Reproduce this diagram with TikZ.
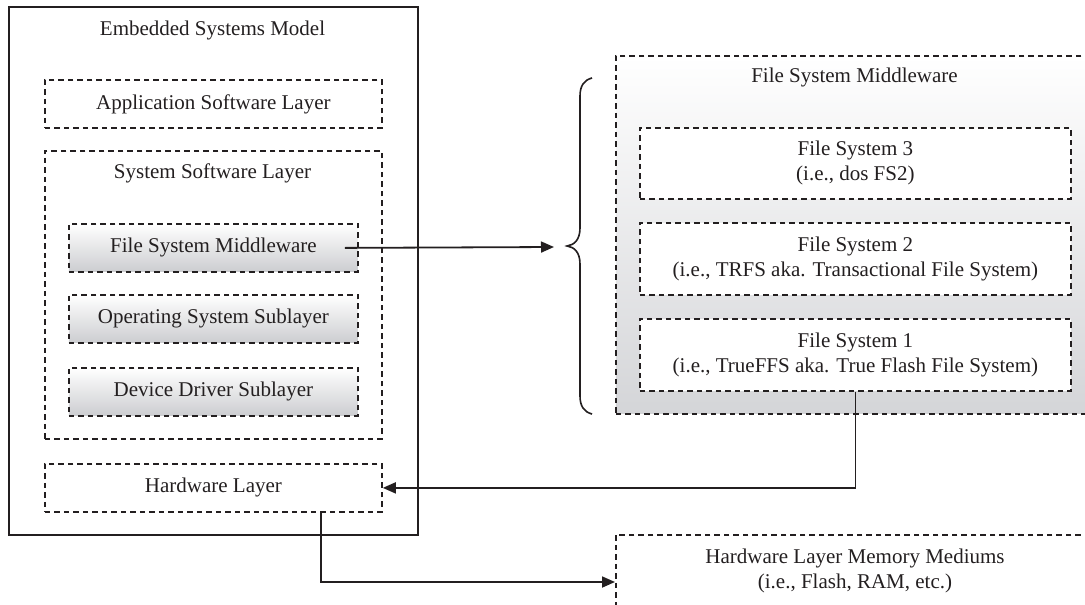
\documentclass[tikz,border=0pt]{standalone}
\usepackage{fontspec}
\setmainfont{Liberation Serif}
\usetikzlibrary{arrows.meta}
\definecolor{ink}{RGB}{35,31,32}
\definecolor{shadelow}{RGB}{204,205,208}
\definecolor{panellow}{RGB}{212,213,216}
\tikzset{
  txt/.style={font=\fontsize{21}{25}\selectfont, text=ink, align=center, inner sep=0pt},
  solidbox/.style={draw=ink, line width=2pt, rectangle, inner sep=0pt, anchor=north west},
  dbox/.style={draw=ink, dash pattern=on 5.5pt off 4pt, line width=1.8pt, rectangle,
    inner sep=0pt, anchor=north west, txt},
  shadebox/.style={dbox, top color=white, bottom color=shadelow},
  panelbox/.style={dbox, top color=white, bottom color=panellow},
  whitebox/.style={dbox, fill=white},
  conn/.style={draw=ink, line width=1.8pt, -{Triangle[length=13pt,width=11pt]}},
}
\begin{document}
\begin{tikzpicture}[x=1pt,y=-1pt]
\useasboundingbox (0,0) rectangle (1085,605);
\clip (0,0) rectangle (1085,605);

% embedded systems model, left column
\node[solidbox, minimum width=409pt, minimum height=528pt] (esm) at (8,6) {};
\node[txt] (esmlabel) at (212.5,30) {Embedded Systems Model};
\node[dbox, minimum width=337pt, minimum height=48pt] (app) at (44,79) {Application Software Layer};
\node[dbox, minimum width=337pt, minimum height=288pt] (sys) at (44,150) {};
\node[txt] (syslabel) at (212.5,173) {System Software Layer};
\node[shadebox, minimum width=289pt, minimum height=48pt] (fsm) at (68,223) {File System Middleware};
\node[shadebox, minimum width=289pt, minimum height=48pt] (os) at (68,294) {Operating System Sublayer};
\node[shadebox, minimum width=289pt, minimum height=48pt] (dd) at (68,367) {Device Driver Sublayer};
\node[dbox, minimum width=337pt, minimum height=48pt] (hw) at (44,463) {Hardware Layer};

% file system middleware, expanded
\node[panelbox, minimum width=600pt, minimum height=358pt] (mid) at (615,55) {};
\node[txt] (midlabel) at (854.5,77) {File System Middleware};
\node[whitebox, minimum width=431pt, minimum height=71pt] (fs3) at (639,127) {File System 3\\(i.e., dos FS2)};
\node[whitebox, minimum width=431pt, minimum height=72pt] (fs2) at (639,222) {File System 2\\(i.e., TRFS aka. Transactional File System)};
\node[whitebox, minimum width=431pt, minimum height=72pt] (fs1) at (639,318) {File System 1\\(i.e., TrueFFS aka. True Flash File System)};

% memory mediums
\node[dbox, minimum width=600pt, minimum height=120pt] (mem) at (615,534) {};
\node[txt] (memlabel) at (855,571) {Hardware Layer Memory Mediums\\(i.e., Flash, RAM, etc.)};

% brace
\draw[draw=ink, line width=1.6pt]
  (592,78) .. controls (584,80) and (580,86) .. (580,96) -- (580,228)
  .. controls (580,240) and (574,245) .. (567,246)
  .. controls (574,247) and (580,252) .. (580,264) -- (580,396)
  .. controls (580,406) and (584,412) .. (592,414);

% connectors
\coordinate (fsmtail) at ([xshift=-14pt]fsm.east);
\coordinate (bracetip) at (554,247);
\draw[conn] (fsmtail) -- (bracetip);
\draw[conn] (fs1.south) |- (hw.east);
\coordinate (hwtail) at ([xshift=107.5pt]hw.south);
\coordinate (memin) at ([yshift=-48pt]mem.north west);
\draw[conn] (hwtail) |- (memin);
\end{tikzpicture}
\end{document}
